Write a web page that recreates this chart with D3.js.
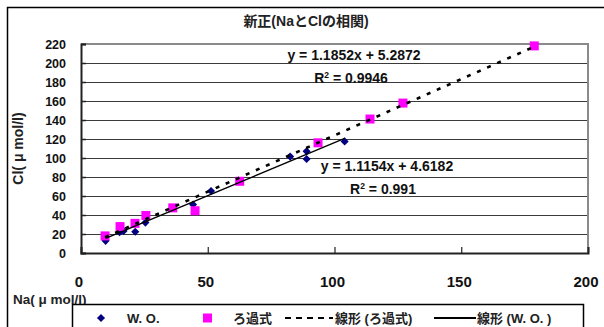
<!DOCTYPE html>
<html lang="ja">
<head>
    <meta charset="UTF-8">
    <title>新正(NaとClの相関)</title>
    <style>
        body { margin: 0; background: #fff; }
        svg { display: block; font-family: "Liberation Sans", Arial, "Noto Sans CJK JP", sans-serif; }
        .grid line { stroke: #3a3a3a; stroke-width: 1.2px; shape-rendering: crispEdges; }
        .tick-label { font-weight: bold; fill: #111; }
    </style>
    <script src="https://d3js.org/d3.v7.min.js"></script>
</head>
<body>
    <svg width="604" height="327"></svg>

    <script>
        // W. O. series (Na, Cl)
        const woNa = [9.7, 15.2, 16.8, 21.4, 25.4, 44.2, 51.3, 82.5, 89.0, 89.0, 104.0];
        const woCl = [12.8, 21.8, 23.2, 22.4, 32.0, 51.0, 65.2, 101.5, 107.0, 99.0, 117.5];

        // ろ過式 series (Na, Cl)
        const filtNa = [9.5, 15.4, 21.3, 25.6, 36.2, 45.0, 62.6, 93.5, 114.0, 127.0, 178.8];
        const filtCl = [18.0, 27.8, 31.2, 39.5, 47.5, 44.5, 75.5, 116.0, 141.0, 157.8, 218.0];

        // trend lines: [slope, intercept]
        const trendFilt = [1.1852, 5.2872];
        const trendWo = [1.1154, 4.6182];

        const xTicks = [0, 50, 100, 150, 200];
        const yTicks = [0, 20, 40, 60, 80, 100, 120, 140, 160, 180, 200, 220];

        const svg = d3.select("svg");

        const plot = {left: 81, right: 588, top: 44, bottom: 253};
        const x = d3.scaleLinear().domain([0, 200]).range([plot.left, plot.right]);
        const y = d3.scaleLinear().domain([0, 220]).range([plot.bottom, plot.top]);

        // outer frame (only top/left visible in the crop)
        svg.append("path")
            .attr("d", "M7.5,327 V7.5 H604")
            .attr("fill", "none")
            .attr("stroke", "#000")
            .attr("stroke-width", 1.5);

        // title
        svg.append("text")
            .attr("x", 306).attr("y", 26)
            .attr("text-anchor", "middle")
            .attr("font-size", 14).attr("font-weight", "bold")
            .attr("fill", "#222")
            .text("新正(NaとClの相関)");

        // horizontal gridlines
        svg.append("g").attr("class", "grid")
            .selectAll("line")
            .data(yTicks.filter(d => d > 0 && d < 220))
            .join("line")
            .attr("x1", plot.left).attr("x2", plot.right)
            .attr("y1", d => Math.round(y(d)) + 0.5).attr("y2", d => Math.round(y(d)) + 0.5);

        // plot border: top/right gray
        svg.append("path")
            .attr("d", `M${plot.left},${plot.top} H${plot.right} V${plot.bottom}`)
            .attr("fill", "none")
            .attr("stroke", "#8a8a8a")
            .attr("stroke-width", 2);

        // axes (ticks inside)
        const xAxis = svg.append("g")
            .attr("transform", `translate(0,${plot.bottom})`)
            .call(d3.axisTop(x).tickValues(xTicks).tickSize(6).tickFormat(""));
        xAxis.select(".domain").attr("stroke", "#222").attr("stroke-width", 2);
        xAxis.selectAll(".tick line").attr("stroke", "#222").attr("stroke-width", 1.2);

        const yAxis = svg.append("g")
            .attr("transform", `translate(${plot.left},0)`)
            .call(d3.axisRight(y).tickValues(yTicks).tickSize(5).tickFormat(""));
        yAxis.select(".domain").attr("stroke", "#222").attr("stroke-width", 2);
        yAxis.selectAll(".tick line").attr("stroke", "#222").attr("stroke-width", 1.5);

        // tick labels
        svg.append("g").selectAll("text")
            .data(yTicks)
            .join("text")
            .attr("class", "tick-label")
            .attr("x", 66).attr("y", d => y(d))
            .attr("dy", "0.36em")
            .attr("text-anchor", "end")
            .attr("font-size", 12.5)
            .text(d => d);

        svg.append("g").selectAll("text")
            .data(xTicks)
            .join("text")
            .attr("class", "tick-label")
            .attr("x", d => x(d) - 2).attr("y", 287)
            .attr("text-anchor", "middle")
            .attr("font-size", 15)
            .text(d => d);

        // axis titles
        svg.append("text")
            .attr("transform", `translate(23,${(plot.top + plot.bottom) / 2}) rotate(-90)`)
            .attr("text-anchor", "middle")
            .attr("font-size", 14).attr("font-weight", "bold")
            .attr("fill", "#222")
            .text("Cl( μ mol/l)");

        svg.append("text")
            .attr("x", 13).attr("y", 304)
            .attr("font-size", 13.5).attr("font-weight", "bold")
            .attr("fill", "#222")
            .text("Na( μ mol/l)");

        // markers
        const woPts = woNa.map((d, i) => [d, woCl[i]]);
        const filtPts = filtNa.map((d, i) => [d, filtCl[i]]);

        const diamond = d3.symbol().type(d3.symbolDiamond2).size(42);
        svg.append("g").selectAll("path")
            .data(woPts)
            .join("path")
            .attr("d", diamond)
            .attr("transform", d => `translate(${x(d[0])},${y(d[1])})`)
            .attr("fill", "#000080");

        svg.append("g").selectAll("rect")
            .data(filtPts)
            .join("rect")
            .attr("x", d => x(d[0]) - 4.5).attr("y", d => y(d[1]) - 4.5)
            .attr("width", 9).attr("height", 9)
            .attr("fill", "#ff00ff");

        // trend lines
        const line = d3.line().x(d => x(d[0])).y(d => y(d[1]));
        const fx = d3.extent(filtNa);
        svg.append("path")
            .attr("d", line(fx.map(v => [v, trendFilt[0] * v + trendFilt[1]])))
            .attr("fill", "none")
            .attr("stroke", "#000")
            .attr("stroke-width", 2.6)
            .attr("stroke-dasharray", "4,7");

        const wx = d3.extent(woNa);
        svg.append("path")
            .attr("d", line(wx.map(v => [v, trendWo[0] * v + trendWo[1]])))
            .attr("fill", "none")
            .attr("stroke", "#000")
            .attr("stroke-width", 1.3);

        // equation labels
        const eq = [
            {t: "y = 1.1852x + 5.2872", x: 354, y: 60},
            {t: "R2 = 0.9946", x: 351, y: 83},
            {t: "y = 1.1154x + 4.6182", x: 387, y: 171},
            {t: "R2 = 0.991", x: 383, y: 194}
        ];
        const eqText = svg.append("g").selectAll("text")
            .data(eq)
            .join("text")
            .attr("x", d => d.x).attr("y", d => d.y)
            .attr("text-anchor", "middle")
            .attr("font-size", 14).attr("font-weight", "bold")
            .attr("fill", "#111");
        eqText.each(function(d) {
            const t = d3.select(this);
            if (d.t.startsWith("R2")) {
                t.append("tspan").text("R");
                t.append("tspan").attr("dy", -5).attr("font-size", 8.5).text("2");
                t.append("tspan").attr("dy", 5).text(d.t.slice(2));
            } else {
                t.text(d.t);
            }
        });

        // legend
        const lg = svg.append("g");
        lg.append("rect")
            .attr("x", 72.5).attr("y", 304.5)
            .attr("width", 511).attr("height", 40)
            .attr("fill", "#fff")
            .attr("stroke", "#000")
            .attr("stroke-width", 1.5);

        const ly = 318;
        lg.append("path")
            .attr("d", diamond)
            .attr("transform", `translate(101,${ly})`)
            .attr("fill", "#000080");
        lg.append("rect")
            .attr("x", 203).attr("y", ly - 4.5)
            .attr("width", 9).attr("height", 9)
            .attr("fill", "#ff00ff");
        lg.append("line")
            .attr("x1", 285).attr("x2", 333).attr("y1", ly).attr("y2", ly)
            .attr("stroke", "#000").attr("stroke-width", 2.2)
            .attr("stroke-dasharray", "6,5");
        lg.append("line")
            .attr("x1", 434).attr("x2", 476).attr("y1", ly).attr("y2", ly)
            .attr("stroke", "#000").attr("stroke-width", 2);

        const legendLabels = [
            {t: "W. O.", x: 127},
            {t: "ろ過式", x: 233},
            {t: "線形 (ろ過式)", x: 335},
            {t: "線形 (W. O. )", x: 477}
        ];
        lg.selectAll("text.lbl")
            .data(legendLabels)
            .join("text")
            .attr("class", "lbl")
            .attr("x", d => d.x).attr("y", ly + 5)
            .attr("font-size", 13).attr("font-weight", "bold")
            .attr("fill", "#222")
            .text(d => d.t);
    </script>
</body>
</html>
